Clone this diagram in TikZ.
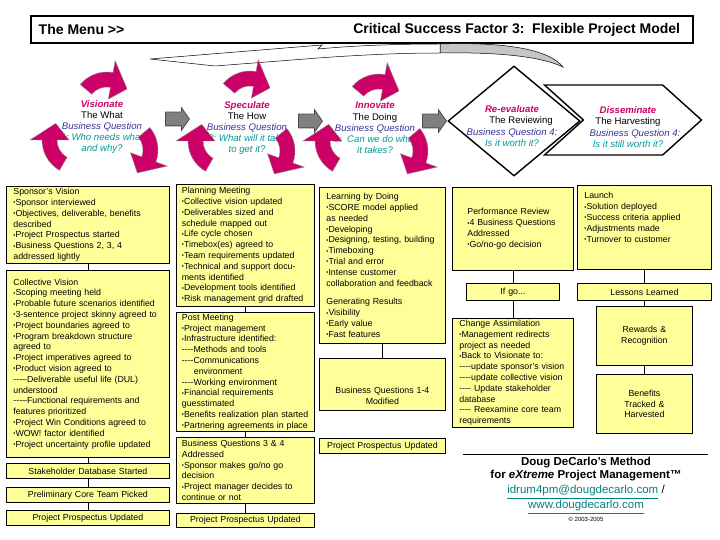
\documentclass[tikz,border=0pt]{standalone}
\usepackage{fontspec}
\setmainfont{Liberation Sans}
\usepackage{tikz}
\usetikzlibrary{shapes, shapes.geometric, shapes.symbols, shapes.arrows, positioning, arrows}

\definecolor{magen}{RGB}{204,0,102}
\definecolor{qblue}{RGB}{51,51,153}
\definecolor{qteal}{RGB}{0,153,153}
\definecolor{boxyel}{RGB}{255,255,153}
\definecolor{linkteal}{RGB}{0,128,128}

\newcommand\bul{\raisebox{0.7pt}{\fontsize{6}{5}\selectfont\textbullet}}
\newcommand\dd{-{}-{}-{}-}
\newcommand\stname[1]{{\bfseries\itshape\color{magen}#1}}
\newcommand\bq[1]{{\itshape\color{qblue}#1}}
\newcommand\qq[1]{{\itshape\color{qteal}#1}}

\tikzset{
  yb/.style={draw, fill=boxyel, anchor=north west, inner xsep=7pt, inner ysep=1.5pt, align=left, font=\fontsize{8.8}{10.8}\selectfont},
  yl/.style={yb, align=center},
  stagetxt/.style={align=center, inner sep=0pt, font=\fontsize{9.6}{11.2}\selectfont},
  greyarrow/.style={single arrow, draw=black!70, fill=black!50, minimum height=24pt, single arrow tip angle=110, single arrow head extend=4.5pt, inner sep=6.5pt},
  pics/turn/.style={code={
    \fill[magen, draw=black!45, line width=0.4pt] (220:35) arc[start angle=220, end angle=280, radius=35] -- (280:47) -- (318:27) -- (280:8) -- (280:20) arc[start angle=280, end angle=220, radius=20] -- cycle;
  }}
}

\begin{document}
\begin{tikzpicture}[x=1pt, y=-1pt, line width=0.8pt]
\useasboundingbox (0,0) rectangle (720,540);

\node[draw, line width=1.8pt, fill=white, minimum width=662pt, minimum height=27pt, anchor=north west] (bar) at (30,15) {};
\node[anchor=west, font=\bfseries\fontsize{14}{16}\selectfont] (menu) at ([xshift=5pt]bar.west) {The Menu >{}>};
\node[anchor=east, font=\bfseries\fontsize{14}{16}\selectfont] (csf) at ([xshift=-10pt]bar.east) {Critical Success Factor 3:\ \ Flexible Project Model};

% back to visionate
\draw[fill=gray!45, line width=0.5pt] (440,44) .. controls (500,42) and (548,48) .. (563,67) .. controls (540,56) and (495,52) .. (440,53) -- cycle;
\draw[fill=white, line width=0.5pt] (440,44) .. controls (390,44) and (350,46) .. (318,49) -- (322,45) -- (150,59) -- (215,66) -- (318,58) .. controls (360,55) and (400,53) .. (440,53) -- cycle;

\node[stagetxt] (vis) at (102,127) {\stname{Visionate}\\The What\\\bq{Business Question}\\\qq{1:\ Who needs what}\\\qq{and why?}};
\node[stagetxt] (spec) at (247,128) {\stname{Speculate}\\The How\\\bq{Business Question}\\\qq{2:\ What will it take}\\\qq{to get it?}};
\node[stagetxt] (inn) at (375,128) {\stname{Innovate}\\The Doing\\\bq{Business Question}\\\qq{3:\ \ Can we do what}\\\qq{it takes?}};

\node[greyarrow] (ga1) at (175,119) {};
\node[greyarrow] (ga2) at (308,121) {};
\node[greyarrow] (ga3) at (432,121) {};

\pic at (107,107) {turn};
\pic[rotate=-100] at (123,150) {turn};
\pic[rotate=100] at (77,140) {turn};
\pic at (250,106) {turn};
\pic[rotate=-100] at (260,151) {turn};
\pic[rotate=100] at (223,141) {turn};
\pic at (379,109) {turn};
\pic[rotate=-100] at (393,151) {turn};
\pic[rotate=100] at (350,141) {turn};

\node[signal, signal from=west, signal to=east, signal pointer angle=84, draw, line width=1.4pt, fill=white, minimum width=157pt, minimum height=70pt] (dissem) at (623,120) {};
\node[diamond, draw, line width=1.4pt, fill=white, minimum width=132pt, minimum height=110pt, inner sep=0pt] (reval) at (514,121) {};
\node[stagetxt] (revtxt) at (512,126) {\stname{Re-evaluate}\\\hspace*{18pt}The Reviewing\\\bq{Business Question 4:}\\\qq{Is it worth it?}};
\node[stagetxt] (distxt) at (628,127) {\stname{Disseminate}\\The Harvesting\\\hspace*{14pt}\bq{Business Question 4:}\\\qq{Is it still worth it?}};

\node[yb, text width=149pt, minimum height=77pt] (sv) at (6,186) {Sponsor's Vision\\
\bul Sponsor interviewed\\
\bul Objectives, deliverable, benefits\\
described\\
\bul Project Prospectus started\\
\bul Business Questions 2, 3, 4\\
addressed lightly};
\node[yb, text width=149pt, minimum height=187pt] (cv) at (6,270) {Collective Vision\\
\bul Scoping meeting held\\
\bul Probable future scenarios identified\\
\bul 3-sentence project skinny agreed to\\
\bul Project boundaries agreed to\\
\bul Program breakdown structure\\
agreed to\\
\bul Project imperatives agreed to\\
\bul Product vision agreed to\\
\dd-{}Deliverable useful life (DUL)\\
understood\\
\dd-{}Functional requirements and\\
features prioritized\\
\bul Project Win Conditions agreed to\\
\bul WOW! factor identified\\
\bul Project uncertainty profile updated};
\node[yl, text width=149pt, minimum height=15pt] (sd) at (6,463) {Stakeholder Database Started};
\node[yl, text width=149pt, minimum height=15pt] (pc) at (6,487) {Preliminary Core Team Picked};
\node[yl, text width=149pt, minimum height=15pt] (pp1) at (6,510) {Project Prospectus Updated};

\node[yb, inner xsep=5.5pt, text width=127pt, minimum height=122pt] (pm) at (176,184) {Planning Meeting\\
\bul Collective vision updated\\
\bul Deliverables sized and\\
schedule mapped out\\
\bul Life cycle chosen\\
\bul Timebox(es) agreed to\\
\bul Team requirements updated\\
\bul Technical and support docu-\\
ments identified\\
\bul Development tools identified\\
\bul Risk management grid drafted};
\node[yb, inner xsep=5.5pt, text width=127pt, minimum height=119pt] (post) at (176,312) {Post Meeting\\
\bul Project management\\
\bul Infrastructure identified:\\
\dd Methods and tools\\
\dd Communications\\
\hspace*{12pt}environment\\
\dd Working environment\\
\bul Financial requirements\\
guesstimated\\
\bul Benefits realization plan started\\
\bul Partnering agreements in place};
\node[yb, inner xsep=5.5pt, text width=127pt, minimum height=66pt] (bq34) at (176,437) {Business Questions 3 \& 4\\
Addressed\\
\bul Sponsor makes go/no go\\
decision\\
\bul Project manager decides to\\
continue or not};
\node[yl, inner xsep=5.5pt, text width=127pt, minimum height=14pt] (pp2) at (176,513) {Project Prospectus Updated};

\node[yb, text width=112pt, minimum height=156pt] (ld) at (319,187) {Learning by Doing\\
\bul SCORE model applied\\
as needed\\
\bul Developing\\
\bul Designing, testing, building\\
\bul Timeboxing\\
\bul Trial and error\\
\bul Intense customer\\
collaboration and feedback\\[8pt]
Generating Results\\
\bul Visibility\\
\bul Early value\\
\bul Fast features};
\node[yl, text width=112pt, minimum height=52pt] (bq14) at (319,358) {\rule{0pt}{30pt}Business Questions 1-4\\Modified};
\node[yl, text width=112pt, minimum height=15pt] (pp3) at (319,438) {Project Prospectus Updated};

\node[yb, inner xsep=15pt, text width=91pt, minimum height=83pt] (pr) at (452,187) {Performance Review\\
\bul 4 Business Questions\\
Addressed\\
\bul Go/no-go decision};
\node[yl, text width=79pt, minimum height=17pt] (ifgo) at (466,283) {If go...};
\node[yb, text width=107pt, minimum height=109pt] (ca) at (452,318) {Change Assimilation\\
\bul Management redirects\\
project as needed\\
\bul Back to Visionate to:\\
\dd update sponsor's vision\\
\dd update collective vision\\
\dd\ Update stakeholder\\
database\\
\dd\ Reexamine core team\\
requirements};

\node[yb, text width=120pt, minimum height=84pt] (la) at (577,185) {Launch\\
\bul Solution deployed\\
\bul Success criteria applied\\
\bul Adjustments made\\
\bul Turnover to customer\rule[-20pt]{0pt}{20pt}};
\node[yl, text width=120pt, minimum height=17pt] (ll) at (577,283) {Lessons Learned};
\node[yl, text width=82pt, minimum height=59pt] (rr) at (596,306) {Rewards \&\\Recognition};
\node[yl, text width=82pt, minimum height=59pt] (bt) at (596,374) {Benefits\\Tracked \&\\Harvested};

\draw
  (sv) edge (cv)
  (cv) edge (sd)
  (sd) edge (pc)
  (pc) edge (pp1)
  (pm) edge (post)
  (post) edge (bq34)
  (bq34) edge (pp2)
  (ld) edge (bq14)
  (pr) edge (ifgo)
  (ifgo) edge (ca)
  (la) edge (ll)
  (ll) edge (rr)
  (rr) edge (bt)
  ;

\draw (463,454) -- (708,454);
\node[align=center, font=\bfseries\fontsize{11.5}{13}\selectfont] (meth) at (586,469.5) {Doug DeCarlo's Method\\for \textit{eXtreme} Project Management™};
\node[font=\fontsize{11.5}{13}\selectfont] (mail) at (586,492) {{\color{linkteal}\underline{idrum4pm@dougdecarlo.com}} /};
\node[font=\fontsize{11.5}{13}\selectfont] (web) at (586,507) {\color{linkteal}\underline{www.dougdecarlo.com}};
\node[font=\fontsize{6}{7}\selectfont] (copy) at (586,519) {© 2003-2005};
\end{tikzpicture}
\end{document}
